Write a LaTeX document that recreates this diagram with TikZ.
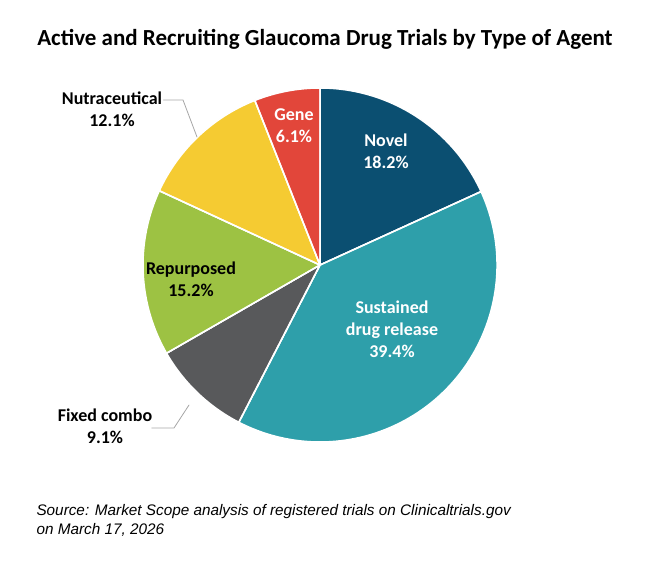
\documentclass[tikz,border=0pt]{standalone}
\usepackage{fontspec}
\setmainfont{Carlito}
\newfontfamily\srcfont{Liberation Sans}
\usetikzlibrary{positioning}
\definecolor{novelblue}{HTML}{0B4F71}
\definecolor{sustteal}{HTML}{2E9FAA}
\definecolor{fixgray}{HTML}{58595B}
\definecolor{repgreen}{HTML}{9DC243}
\definecolor{nutyellow}{HTML}{F5CB32}
\definecolor{genered}{HTML}{E2463A}
\definecolor{leadgray}{HTML}{A6A6A6}
\tikzset{
  slice/.style={draw=white,line width=1.5pt,line join=round},
  inlab/.style={text=white,font=\bfseries\fontsize{18}{22}\selectfont,align=center},
  outlab/.style={text=black,font=\bfseries\fontsize{18}{22}\selectfont,align=center},
  lead/.style={draw=leadgray,line width=0.8pt}
}
\begin{document}
\begin{tikzpicture}[x=1pt,y=1pt,line cap=round]
		\useasboundingbox (0,0) rectangle (650,565);
		\coordinate (c) at (320,300);
		% slices, clockwise from top
		\fill [slice,fill=novelblue] (c) -- ++(90:177) arc (90:24.5:177) -- cycle;
		\fill [slice,fill=sustteal] (c) -- ++(24.5:177) arc (24.5:-117.3:177) -- cycle;
		\fill [slice,fill=fixgray] (c) -- ++(-117.3:177) arc (-117.3:-150.1:177) -- cycle;
		\fill [slice,fill=repgreen] (c) -- ++(-150.1:177) arc (-150.1:-204.8:177) -- cycle;
		\fill [slice,fill=nutyellow] (c) -- ++(155.2:177) arc (155.2:111.6:177) -- cycle;
		\fill [slice,fill=genered] (c) -- ++(111.6:177) arc (111.6:90:177) -- cycle;
		\draw [slice] (c) -- ++(90:177) (c) -- ++(24.5:177) (c) -- ++(-117.3:177)
		  (c) -- ++(-150.1:177) (c) -- ++(155.2:177) (c) -- ++(111.6:177);
		% labels
		\node (title) at (325,526) {\bfseries\fontsize{23}{26}\selectfont Active and Recruiting Glaucoma Drug Trials by Type of Agent};
		\node [inlab] (novel) at (386,414) {Novel\\18.2\%};
		\node [inlab] (sust) at (392,236) {Sustained\\drug release\\39.4\%};
		\node [inlab] (gene) at (294,439) {Gene\\6.1\%};
		\node [inlab,text=black] (rep) at (191,286) {Repurposed\\15.2\%};
		\node [outlab] (nut) at (112,456) {Nutraceutical\\12.1\%};
		\node [outlab] (fix) at (105,139) {Fixed combo\\9.1\%};
		\coordinate (nutbend) at (183,465);
		\coordinate (nutend) at (197,428);
		\coordinate (fixbend) at (174,137);
		\coordinate (fixend) at (189,160);
		\draw [lead] (nut.north east |- nutbend) ++(-2,0) -- (nutbend) -- (nutend);
		\draw [lead] (fix.north east |- fixbend) ++(-4,0) -- (fixbend) -- (fixend);
		\node [anchor=north west,align=left,font=\srcfont\itshape\fontsize{15.3}{19}\selectfont] (src) at (33,64)
		  {Source: Market Scope analysis of registered trials on Clinicaltrials.gov\\on March 17, 2026};
\end{tikzpicture}
\end{document}
